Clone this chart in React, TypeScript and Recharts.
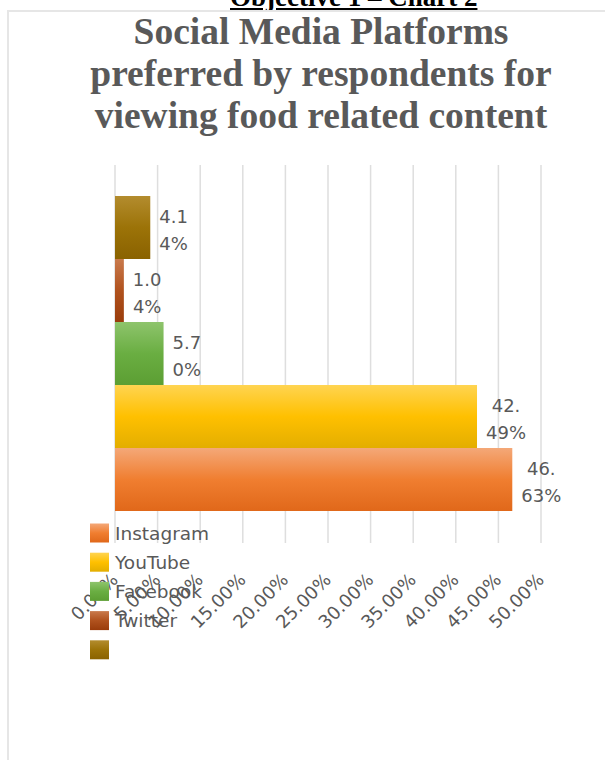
import React from "react";
import { BarChart, Bar, XAxis, YAxis, CartesianGrid, LabelList } from "recharts";

const headerText = "Objective 1 – Chart 2";
const titleLines = [
  "Social Media Platforms",
  "preferred by respondents for",
  "viewing food related content",
];
const categories = [""];
const seriesNames = ["Instagram", "YouTube", "Facebook", "Twitter", "Others"];
const seriesValues = [46.63, 42.49, 5.7, 1.04, 4.14];
const legendLabels = ["Instagram", "YouTube", "Facebook", "Twitter", ""];
const xTicks = [0, 5, 10, 15, 20, 25, 30, 35, 40, 45, 50];
const xTickLabels = xTicks.map((t) => t.toFixed(2) + "%");

const gradientStops = [
  ["#F4A878", "#F07E30", "#E0681A"],
  ["#FFD451", "#FFC000", "#E3AE00"],
  ["#8EC46C", "#6AAE42", "#5C9E33"],
  ["#C97A4C", "#B0521E", "#9A3C0B"],
  ["#B38C2E", "#9C7308", "#8A6200"],
];

const data = categories.map((c) => {
  const row: Record<string, any> = { cat: c };
  seriesNames.forEach((n, i) => (row[n] = seriesValues[i]));
  return row;
});

const FONT = "'DejaVu Sans', sans-serif";
const GRAY = "#595959";

const charW: Record<string, number> = { ".": 0.318, "%": 0.95 };
const textWidth = (s: string, fs: number) =>
  s.split("").reduce((a, ch) => a + (charW[ch] ?? 0.636) * fs, 0);

const DataLabel = (props: any) => {
  const { x, y, width, height, value } = props;
  const s = Number(value).toFixed(2) + "%";
  const l1 = s.slice(0, 3);
  const l2 = s.slice(3);
  const fs = 18;
  const block = Math.max(textWidth(l1, fs), textWidth(l2, fs));
  const cx = x + width + 9 + block / 2;
  const cy = y + height / 2;
  return (
    <g>
      <text x={cx} y={cy - 11} textAnchor="middle" dominantBaseline="central" fill={GRAY} fontSize={fs} fontFamily={FONT}>
        {l1}
      </text>
      <text x={cx} y={cy + 16} textAnchor="middle" dominantBaseline="central" fill={GRAY} fontSize={fs} fontFamily={FONT}>
        {l2}
      </text>
    </g>
  );
};

const XTick = (props: any) => {
  const { x, y, payload } = props;
  const idx = xTicks.indexOf(payload.value);
  const label = idx >= 0 ? xTickLabels[idx] : String(payload.value);
  const tx = x + 4;
  const ty = y + 38;
  return (
    <text x={tx} y={ty} textAnchor="end" fill={GRAY} fontSize={18} fontFamily={FONT} transform={`rotate(-45, ${tx}, ${ty})`}>
      {label}
    </text>
  );
};

export default function App() {
  const order = [4, 3, 2, 1, 0];
  return (
    <div style={{ position: "absolute", left: 0, top: 0, width: 605, height: 760, overflow: "hidden", background: "#fff" }}>
      <div
        style={{
          position: "absolute",
          left: 230,
          top: -16,
          fontFamily: "'Liberation Serif', serif",
          fontWeight: "bold",
          fontSize: 27,
          lineHeight: "26px",
          color: "#000",
          textDecoration: "underline",
          whiteSpace: "nowrap",
        }}
      >
        {headerText}
      </div>
      <div
        style={{
          position: "absolute",
          left: 7,
          top: 10,
          width: 640,
          height: 800,
          border: "2px solid #E6E6E6",
          boxSizing: "border-box",
        }}
      />
      <div
        style={{
          position: "absolute",
          left: 21,
          top: 11,
          width: 600,
          textAlign: "center",
          fontFamily: "'Liberation Serif', serif",
          fontWeight: "bold",
          fontSize: 37.5,
          lineHeight: "42px",
          color: GRAY,
        }}
      >
        {titleLines.map((l, i) => (
          <div key={i} style={{ whiteSpace: "nowrap" }}>{l}</div>
        ))}
      </div>
      <div style={{ position: "absolute", left: 0, top: 0 }}>
        <BarChart
          width={605}
          height={760}
          data={data}
          layout="vertical"
          margin={{ top: 165, right: 64, bottom: 187, left: 115 }}
          barCategoryGap={31}
          barGap={0}
        >
          <defs>
            {gradientStops.map((g, i) => (
              <linearGradient key={i} id={`grad${i}`} x1="0" y1="0" x2="0" y2="1">
                <stop offset="0%" stopColor={g[0]} />
                <stop offset="50%" stopColor={g[1]} />
                <stop offset="100%" stopColor={g[2]} />
              </linearGradient>
            ))}
          </defs>
          <CartesianGrid horizontal={false} vertical stroke="#DEDEDE" strokeWidth={1.5} />
          <XAxis
            type="number"
            domain={[0, 50]}
            ticks={xTicks}
            axisLine={false}
            tickLine={false}
            tickSize={0}
            tickMargin={0}
            height={30}
            interval={0}
            tick={<XTick />}
          />
          <YAxis type="category" dataKey="cat" hide />
          {order.map((i) => (
            <Bar key={seriesNames[i]} dataKey={seriesNames[i]} fill={`url(#grad${i})`} isAnimationActive={false}>
              <LabelList dataKey={seriesNames[i]} content={<DataLabel />} />
            </Bar>
          ))}
        </BarChart>
      </div>
      <div style={{ position: "absolute", left: 0, top: 0, pointerEvents: "none" }}>
        <svg width={605} height={760}>
          <defs>
            {gradientStops.map((g, i) => (
              <linearGradient key={i} id={`lgrad${i}`} x1="0" y1="0" x2="0" y2="1">
                <stop offset="0%" stopColor={g[0]} />
                <stop offset="50%" stopColor={g[1]} />
                <stop offset="100%" stopColor={g[2]} />
              </linearGradient>
            ))}
          </defs>
          {legendLabels.map((l, i) => {
            const cy = 533 + i * 29.2;
            return (
              <g key={i}>
                <rect x={90} y={cy - 9.5} width={19} height={19} fill={`url(#lgrad${i})`} />
                <text x={115} y={cy} dominantBaseline="central" fill={GRAY} fontSize={18.5} fontFamily={FONT}>
                  {l}
                </text>
              </g>
            );
          })}
        </svg>
      </div>
    </div>
  );
}
